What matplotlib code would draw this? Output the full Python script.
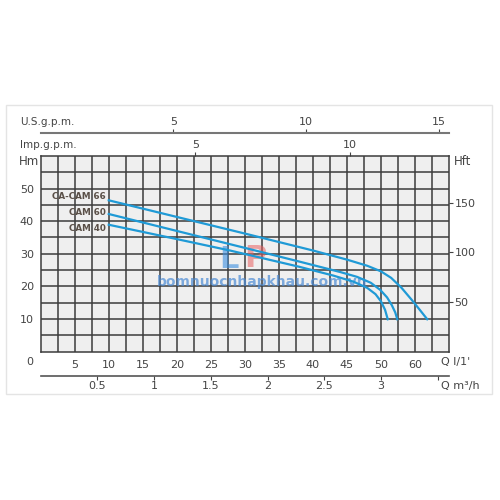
import numpy as np
import matplotlib.pyplot as plt

# 曲线数据 (Q l/min, H m)
q_66 = [10, 20, 30, 40, 45, 48, 50, 51.5, 53, 54.5, 55.7, 56.8]
h_66 = [46.4, 41.3, 36.2, 31.0, 28.2, 26.3, 24.6, 22.6, 19.6, 15.9, 12.8, 9.9]
q_60 = [10, 20, 30, 38, 44, 46.5, 48.5, 49.9, 50.9, 51.6, 52.1, 52.4]
h_60 = [42.2, 37.0, 31.8, 27.6, 24.4, 22.9, 21.1, 18.9, 16.6, 14.2, 12.0, 9.9]
q_40 = [10, 20, 27.8, 38, 43, 46, 48, 49.2, 50.0, 50.6, 51.0]
h_40 = [38.9, 34.5, 31.0, 26.0, 23.3, 21.4, 19.5, 17.6, 15.4, 12.8, 9.9]
curve_names = ['CA-CAM 66', 'CAM 60', 'CAM 40']
label_h = [47.6, 42.7, 37.9]

q_ticks = [5, 10, 15, 20, 25, 30, 35, 40, 45, 50, 55]
q_labels = ['5', '10', '15', '20', '25', '30', '35', '40', '45', '50', '60']
h_ticks = [10, 20, 30, 40, 50]
hft_ticks = [50, 100, 150]
imp_ticks = [5, 10]
us_ticks = [5, 10, 15]
m3h_ticks = [0.5, 1, 1.5, 2, 2.5, 3, 3.5]
m3h_labels = ['0.5', '1', '1.5', '2', '2.5', '3', '']

TXT = '#444444'
BLUE = '#1f9ad6'
FS = 8

fig = plt.figure(figsize=(5, 5), dpi=100)
fig.patch.set_facecolor('white')

# 外框
fig.add_artist(plt.Rectangle((6/500, 1-394/500), 486/500, 289/500, fill=False,
                             edgecolor='#e4e4e4', linewidth=1, transform=fig.transFigure))

ax = fig.add_axes([40.7/500, 1-351.5/500, 408.3/500, 195.5/500])
ax.set_facecolor('#efefef')
ax.set_xlim(0, 60)
ax.set_ylim(0, 60)

# 网格：竖线每 2.5 l/min，横线每 5 m
for gx in np.arange(2.5, 60, 2.5):
    ax.axvline(gx, color='#3c3c3c', linewidth=1.1, zorder=1)
for gy in np.arange(5, 60, 5):
    ax.axhline(gy, color='#3c3c3c', linewidth=1.1, zorder=1)
for s in ax.spines.values():
    s.set_color('#3c3c3c')
    s.set_linewidth(1.1)

ax.set_xticks(q_ticks)
ax.set_xticklabels(q_labels)
ax.set_yticks(h_ticks)
ax.tick_params(axis='both', which='both', length=0, labelsize=FS, colors=TXT)
ax.tick_params(axis='x', pad=6)
ax.tick_params(axis='y', pad=5)

# 曲线
for q, h in [(q_66, h_66), (q_60, h_60), (q_40, h_40)]:
    ax.plot(q, h, color=BLUE, linewidth=1.6, zorder=4)
for name, yh in zip(curve_names, label_h):
    ax.text(9.6, yh, name, ha='right', va='center', fontsize=6.3, color='#5a5048',
            fontweight='semibold', zorder=5)

# 水印
ax.text(27.6, 28.3, 'L', fontsize=22, fontweight='bold', color='#3b8fe0', alpha=0.6,
        ha='center', va='center', zorder=3)
ax.text(31.6, 28.6, 'P', fontsize=22, fontweight='bold', color='#e86060', alpha=0.55,
        ha='center', va='center', zorder=3)
ax.text(32.6, 21.3, 'bomnuocnhapkhau.com.vn', fontsize=10, fontweight='bold',
        color='#4a8ad4', alpha=0.7, ha='center', va='center', zorder=3)

# 右侧 Hft
ax_r = ax.secondary_yaxis('right', functions=(lambda m: m * 3.281, lambda f: f / 3.281))
ax_r.set_yticks(hft_ticks)
ax_r.tick_params(length=3, width=0.8, labelsize=FS, colors=TXT, pad=1)
ax_r.spines['right'].set_visible(False)

# 顶部 Imp.g.p.m.
ax_imp = ax.secondary_xaxis('top', functions=(lambda l: l / 4.546, lambda g: g * 4.546))
ax_imp.set_xticks(imp_ticks)
ax_imp.tick_params(length=3, width=0.8, labelsize=FS, colors=TXT, pad=1)
ax_imp.spines['top'].set_visible(False)

# 顶部 U.S.g.p.m.
ax_us = ax.secondary_xaxis(1 + 23.3/195.5, functions=(lambda l: l / 3.9, lambda g: g * 3.9))
ax_us.set_xticks(us_ticks)
ax_us.tick_params(length=3, width=0.8, labelsize=FS, colors=TXT, pad=1)
ax_us.spines['top'].set_color('#777777')
ax_us.spines['top'].set_linewidth(1.5)

# 底部 m3/h
ax_m3 = ax.secondary_xaxis(-24.2/195.5, functions=(lambda l: l * 0.06, lambda m: m / 0.06))
ax_m3.set_xticks(m3h_ticks)
ax_m3.set_xticklabels(m3h_labels)
ax_m3.tick_params(length=3, width=0.8, labelsize=FS, colors=TXT, pad=1)
ax_m3.spines['bottom'].set_color('#555555')
ax_m3.spines['bottom'].set_linewidth(1.2)

# 单位文字
def ftxt(x, y, s, ha='left', size=FS):
    fig.text(x/500, 1-y/500, s, ha=ha, va='center', fontsize=size, color=TXT)

ftxt(20, 122, 'U.S.g.p.m.', size=7.5)
ftxt(20, 145, 'Imp.g.p.m.', size=7.5)
ftxt(19, 161, 'Hm', size=8.5)
ftxt(454, 161, 'Hft', size=8.5)
ftxt(30, 362, '0', ha='center')
ftxt(441, 362, "Q l/1'")
ftxt(441, 386, 'Q m³/h')

fig.savefig('out.png', dpi=100)
